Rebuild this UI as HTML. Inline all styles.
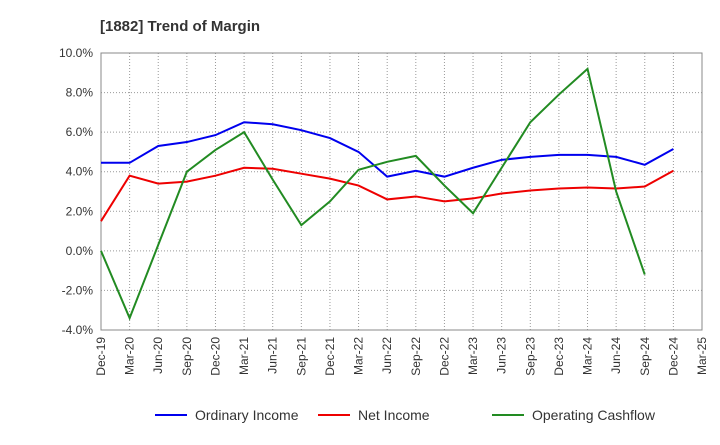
<!DOCTYPE html>
<html><head><meta charset="utf-8"><style>
body{margin:0;background:#fff;font-family:"Liberation Sans",sans-serif}
</style></head><body>
<svg id="c" width="720" height="440" xmlns="http://www.w3.org/2000/svg"></svg>
<script>
const categories=["Dec-19","Mar-20","Jun-20","Sep-20","Dec-20","Mar-21","Jun-21","Sep-21","Dec-21","Mar-22","Jun-22","Sep-22","Dec-22","Mar-23","Jun-23","Sep-23","Dec-23","Mar-24","Jun-24","Sep-24","Dec-24","Mar-25"];
const ordinaryIncome=[4.45,4.45,5.3,5.5,5.85,6.5,6.4,6.1,5.7,5.0,3.75,4.05,3.75,4.2,4.6,4.75,4.85,4.85,4.75,4.35,5.15];
const netIncome=[1.5,3.8,3.4,3.5,3.8,4.2,4.15,3.9,3.65,3.3,2.6,2.75,2.5,2.65,2.9,3.05,3.15,3.2,3.15,3.25,4.05];
const operatingCashflow=[0,-3.4,0.3,4.0,5.1,6.0,3.6,1.3,2.5,4.1,4.5,4.8,3.3,1.9,4.2,6.5,7.9,9.2,3.0,-1.2];
const yTicks=[10,8,6,4,2,0,-2,-4];
const yTickLabels=["10.0%","8.0%","6.0%","4.0%","2.0%","0.0%","-2.0%","-4.0%"];
const svg=document.getElementById('c');const NS="http://www.w3.org/2000/svg";
const L=101,R=702,T=53,B=330;
const x=i=>L+i*(R-L)/(categories.length-1);
const y=v=>T+(10-v)*(B-T)/14;
function el(t,a,p){const e=document.createElementNS(NS,t);for(const k in a)e.setAttribute(k,a[k]);(p||svg).appendChild(e);return e;}
const title=el('text',{x:100,y:31,'font-size':15,'font-weight':'bold',fill:'#333'});title.textContent="[1882]  Trend of Margin";


yTicks.forEach((v,i)=>{const g=el('line',{x1:L,x2:R,y1:y(v),y2:y(v),stroke:'#999','stroke-dasharray':'1,2'});


const t=el('text',{x:L-8,y:y(v)+4,'text-anchor':'end','font-size':12,fill:'#333'});t.textContent=yTickLabels[i];

});
categories.forEach((c,i)=>{const g=el('line',{x1:x(i),x2:x(i),y1:T,y2:B,stroke:'#999','stroke-dasharray':'1,2'});


const t=el('text',{x:0,y:0,'text-anchor':'end','font-size':12,fill:'#333',transform:`translate(${x(i)+4},${B+7}) rotate(-90)`});t.textContent=c;

});
const fr=el('rect',{x:L,y:T,width:R-L,height:B-T,fill:'none',stroke:'#888'});


function line(d,col,name){const p=el('polyline',{points:d.map((v,i)=>x(i)+','+y(v)).join(' '),fill:'none',stroke:col,'stroke-width':2});

}
line(ordinaryIncome,'#0000ee','ordinary-income-line');
line(netIncome,'#ee0000','net-income-line');
line(operatingCashflow,'#228b22','operating-cashflow-line');
const leg=[["Ordinary Income",'#0000ee',155],["Net Income",'#ee0000',318],["Operating Cashflow",'#228b22',492]];
leg.forEach(([n,c,lx])=>{const g=el('g',{});


el('line',{x1:lx,x2:lx+32,y1:415,y2:415,stroke:c,'stroke-width':2},g);
const t=el('text',{x:lx+40,y:420,'font-size':14,fill:'#333'},g);t.textContent=n;});
</script>
</body></html>
